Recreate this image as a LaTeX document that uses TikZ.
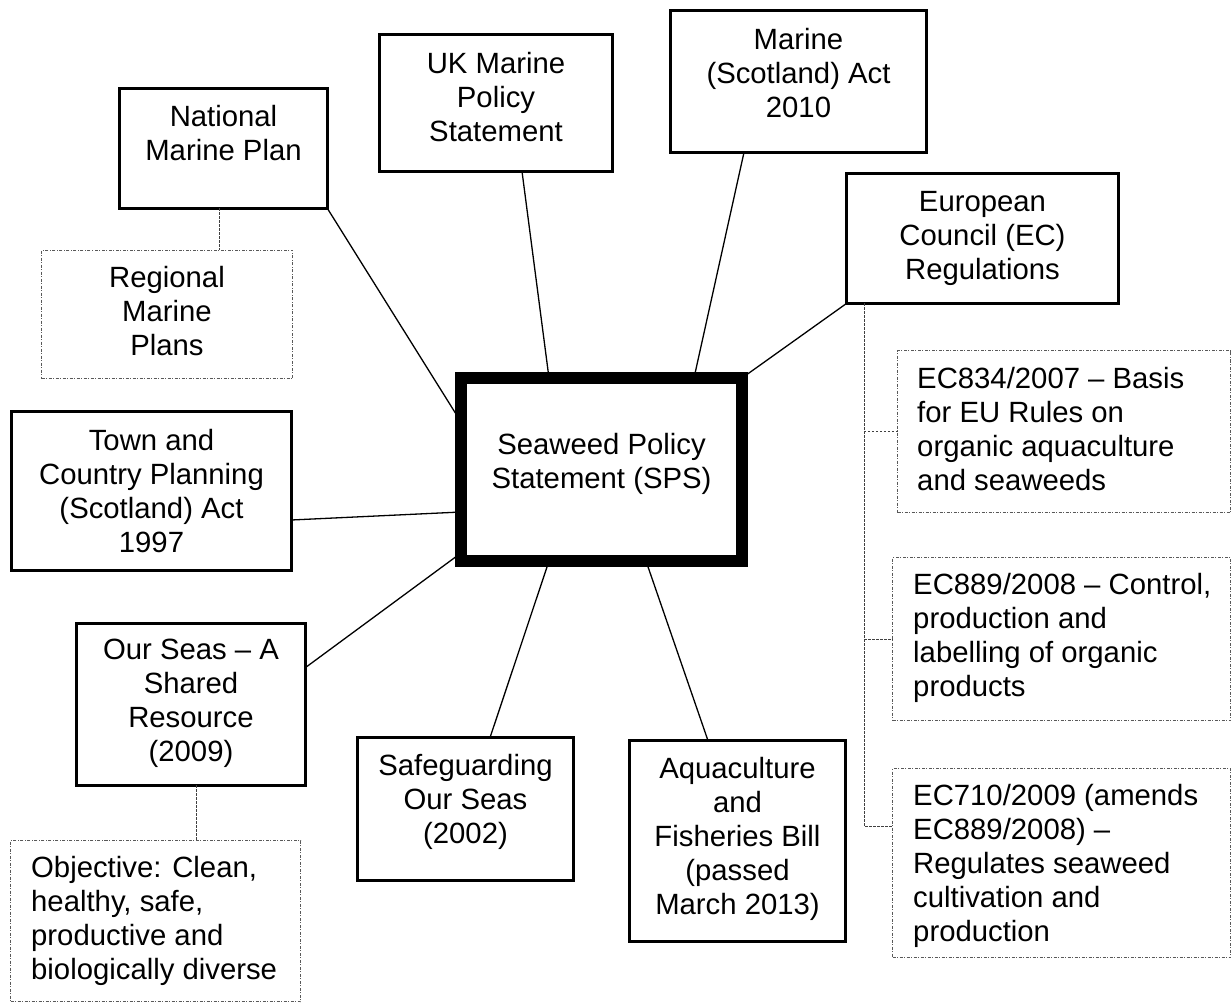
\documentclass[tikz,border=0pt]{standalone}
\usepackage{fontspec}
\setmainfont{Liberation Sans}
\usetikzlibrary{calc}
\newcommand\firstln{\rule{0pt}{24pt}}
\begin{document}
\begin{tikzpicture}[x=1pt,y=-1pt,
  mainbox/.style={draw, line width=3.3pt, inner sep=0, outer sep=0},
  spsbox/.style={draw, line width=12pt, inner sep=0, outer sep=0},
  dotbox/.style={draw=black!65, line width=0.9pt, dash pattern=on 3pt off 1.5pt on 1pt off 1.5pt, inner sep=0, outer sep=0},
  txt/.style={font=\fontsize{29.3}{34}\selectfont, align=center, inner sep=0, anchor=north},
  ltxt/.style={font=\fontsize{29.3}{34}\selectfont, align=left, inner sep=0, anchor=north west},
  link/.style={line width=1.3pt},
  dlink/.style={draw=black!75, line width=0.9pt, dash pattern=on 2.5pt off 1.5pt}]
\useasboundingbox (0,0) rectangle (1232,1003);

% main boxes
\node[mainbox, minimum width=207.7pt, minimum height=119.7pt] (nmp) at (223.5,148.5) {};
\node[mainbox, minimum width=232.7pt, minimum height=136.7pt] (uk) at (496,103) {};
\node[mainbox, minimum width=255.7pt, minimum height=141.7pt] (mar) at (798.5,81.5) {};
\node[mainbox, minimum width=271.7pt, minimum height=129.7pt] (ec) at (982.5,238.5) {};
\node[mainbox, minimum width=279.7pt, minimum height=158.7pt] (town) at (151.5,491) {};
\node[mainbox, minimum width=228.7pt, minimum height=161.7pt] (os) at (191,704.5) {};
\node[mainbox, minimum width=215.7pt, minimum height=142.7pt] (sg) at (465.5,809) {};
\node[mainbox, minimum width=215.7pt, minimum height=200.7pt] (aq) at (737.5,841) {};
\node[spsbox, minimum width=281pt, minimum height=183pt] (sps) at (601.5,469.5) {};

% dotted boxes
\node[dotbox, minimum width=251pt, minimum height=128pt] (reg) at (167,314.5) {};
\node[dotbox, minimum width=333pt, minimum height=162pt] (e834) at (1064,431.5) {};
\node[dotbox, minimum width=338pt, minimum height=163pt] (e889) at (1061.5,639) {};
\node[dotbox, minimum width=338pt, minimum height=189pt] (e710) at (1061.5,863) {};
\node[dotbox, minimum width=290pt, minimum height=161pt] (obj) at (155.5,921) {};

% texts
\node[txt] (nmp-t) at (223.5,102) {\firstln National\\Marine Plan};
\node[txt] (uk-t) at (496,49) {\firstln UK Marine\\Policy\\Statement};
\node[txt] (mar-t) at (798.5,25) {\firstln Marine\\(Scotland) Act\\2010};
\node[txt] (ec-t) at (982.5,187) {\firstln European\\Council (EC)\\Regulations};
\node[txt] (town-t) at (151.5,426) {\firstln Town and\\Country Planning\\(Scotland) Act\\1997};
\node[txt] (os-t) at (191,635) {\firstln Our Seas – A\\Shared\\Resource\\(2009)};
\node[txt] (sg-t) at (465.5,751) {\firstln Safeguarding\\Our Seas\\(2002)};
\node[txt] (aq-t) at (737.5,754) {\firstln Aquaculture\\and\\Fisheries Bill\\(passed\\March 2013)};
\node[txt] (sps-t) at (601.5,430) {\firstln Seaweed Policy\\Statement (SPS)};
\node[txt] (reg-t) at (167,263) {\firstln Regional\\Marine\\Plans};
\node[ltxt] (e834-t) at (917,364) {\firstln EC834/2007 – Basis\\for EU Rules on\\organic aquaculture\\and seaweeds};
\node[ltxt] (e889-t) at (913,570) {\firstln EC889/2008 – Control,\\production and\\labelling of organic\\products};
\node[ltxt] (e710-t) at (913,781) {\firstln EC710/2009 (amends\\EC889/2008) –\\Regulates seaweed\\cultivation and\\production};
\node[ltxt] (obj-t) at (31,853) {\firstln Objective: Clean,\\healthy, safe,\\productive and\\biologically diverse};

% solid connectors
\draw[link] (nmp.south east) -- ($(sps.north west)+(0,44)$);
\draw[link] ($(uk.south)+(26,0)$) -- ($(sps.north west)+(88,0)$);
\draw[link] ($(mar.south)+(-54.5,0)$) -- ($(sps.north west)+(233,0)$);
\draw[link] (ec.south west) -- (sps.north east);
\draw[link] ($(town.east)+(0,29)$) -- ($(sps.north west)+(0,134)$);
\draw[link] ($(os.north east)+(0,44)$) -- ($(sps.south west)+(0,-8)$);
\draw[link] ($(sg.north)+(24.5,0)$) -- ($(sps.south west)+(88,0)$);
\draw[link] ($(aq.north)+(-29.5,0)$) -- ($(sps.south west)+(185,0)$);

% dashed connectors
\draw[dlink] ($(nmp.south)+(-4.5,0)$) -- ($(reg.north)+(52,0)$);
\draw[dlink] ($(os.south)+(5,0)$) -- ($(obj.north)+(40.5,0)$);
\coordinate (ecd) at ($(ec.south)+(-118.5,0)$);
\draw[dlink] (ecd) |- ($(e710.west)+(0,-37)$);
\draw[dlink] (ecd) |- (e834.west);
\draw[dlink] (ecd) |- (e889.west);
\end{tikzpicture}
\end{document}
